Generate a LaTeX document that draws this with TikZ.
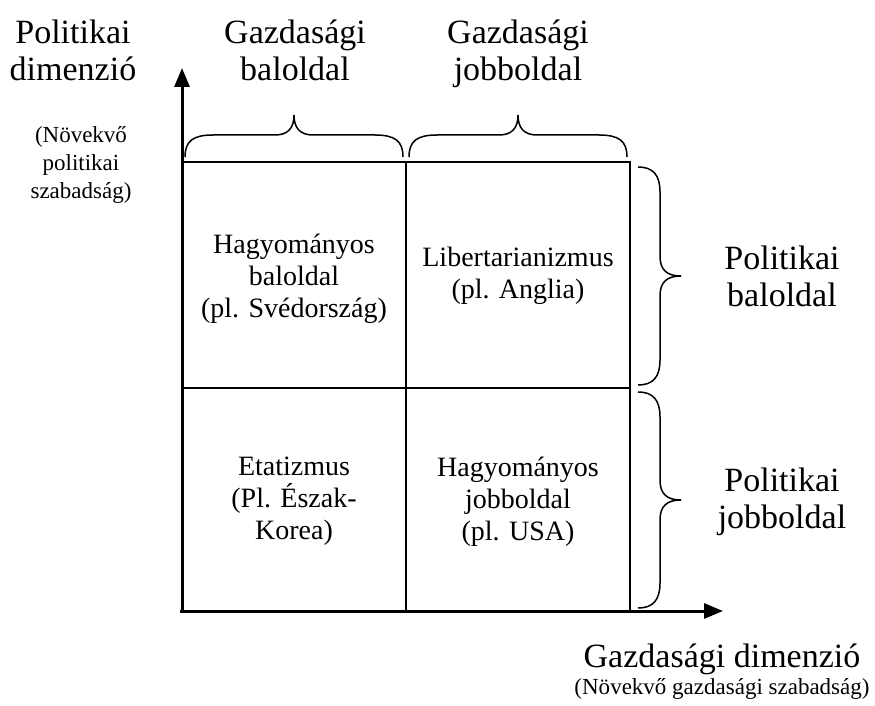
\documentclass[tikz,border=0pt]{standalone}
\usepackage{fontspec}
\setmainfont{Liberation Serif}
\usetikzlibrary{arrows.meta}

\begin{document}
\begin{tikzpicture}[x=1pt,y=-1pt,
  cell/.style={align=center,anchor=north,inner sep=0pt,font=\fontsize{28}{32}\selectfont},
  big/.style={align=center,anchor=north,inner sep=0pt,font=\fontsize{34}{37}\selectfont},
  small/.style={align=center,anchor=north,inner sep=0pt,font=\fontsize{23}{28}\selectfont},
  axis/.style={line width=3pt,-{Triangle[length=19pt,width=15pt]}},
  grid/.style={line width=1.4pt},
  brace/.style={line width=1.5pt}]
\useasboundingbox (0,0) rectangle (875,706);

%% axes
\coordinate (O) at (182,613);
\coordinate (ytip) at (182,68);
\coordinate (xo) at (180,611);
\coordinate (xtip) at (723,611);
\draw[axis] (O) -- (ytip);
\draw[axis] (xo) -- (xtip);

%% grid
\coordinate (tl) at (182,162);
\coordinate (tm) at (406,162);
\coordinate (tr) at (630,162);
\coordinate (ml) at (182,388);
\coordinate (mr) at (630,388);
\coordinate (bm) at (406,611);
\coordinate (br) at (630,611);
\draw[grid] (tl) -- (tr) -- (br);
\draw[grid] (tm) -- (bm);
\draw[grid] (ml) -- (mr);

%% braces on top
\draw[brace] (185,157) .. controls (185,141) and (193,135) .. (213,135) -- (275,135)
  .. controls (288,135) and (294,128) .. (294,115) .. controls (294,128) and (300,135) .. (313,135)
  -- (375,135) .. controls (395,135) and (403,141) .. (403,157);
\draw[brace] (409,157) .. controls (409,141) and (417,135) .. (437,135) -- (499,135)
  .. controls (512,135) and (518,128) .. (518,115) .. controls (518,128) and (524,135) .. (537,135)
  -- (599,135) .. controls (619,135) and (627,141) .. (627,157);
%% braces on the right
\draw[brace] (638,167) .. controls (653,167) and (660,175) .. (660,192) -- (660,256)
  .. controls (660,270) and (667,276) .. (681,276) .. controls (667,276) and (660,282) .. (660,296)
  -- (660,360) .. controls (660,377) and (653,385) .. (638,385);
\draw[brace] (638,392) .. controls (653,392) and (660,400) .. (660,417) -- (660,480)
  .. controls (660,494) and (667,500) .. (681,500) .. controls (667,500) and (660,506) .. (660,520)
  -- (660,583) .. controls (660,600) and (653,608) .. (638,608);

%% labels
\node[big] (ydim) at (73,20) {Politikai\\dimenzió};
\node[small] (ynote) at (81,126) {(Növekvő\\politikai\\szabadság)};
\node[big] (gbal) at (295,20) {Gazdasági\\baloldal};
\node[big] (gjobb) at (518,20) {Gazdasági\\jobboldal};
\node[big] (pbal) at (782,246) {Politikai\\baloldal};
\node[big] (pjobb) at (782,468) {Politikai\\jobboldal};
\node[big] (xdim) at (722,644) {Gazdasági dimenzió};
\node[small] (xnote) at (722,678) {(Növekvő gazdasági szabadság)};

%% cells
\node[cell] (hbal) at (294,234) {Hagyományos\\baloldal\\(pl. Svédország)};
\node[cell] (lib) at (518,247) {Libertarianizmus\\(pl. Anglia)};
\node[cell] (etat) at (294,457) {Etatizmus\\(Pl. Észak-\\Korea)};
\node[cell] (hjobb) at (518,457) {Hagyományos\\jobboldal\\(pl. USA)};

\end{tikzpicture}
\end{document}
